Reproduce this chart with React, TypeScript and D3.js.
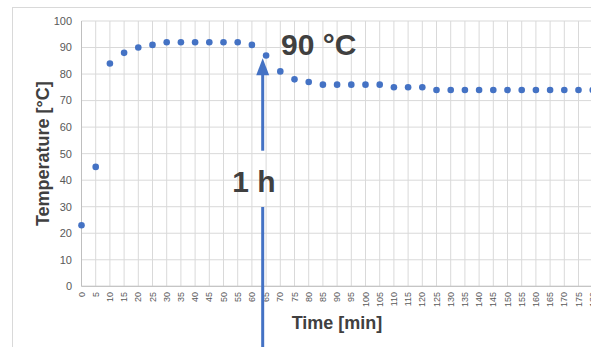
import React from 'react'
import * as d3 from 'd3'

// temperature readings every 5 min
const minutes = d3.range(0, 181, 5)
const temps = [
  23, 45, 84, 88, 90, 91, 92, 92, 92, 92, 92, 92, 91, 87, 81, 78, 77, 76, 76, 76, 76, 76,
  75, 75, 75, 74, 74, 74, 74, 74, 74, 74, 74, 74, 74, 74, 74,
]
const yTicks = [0, 10, 20, 30, 40, 50, 60, 70, 80, 90, 100]

// annotation
const arrowMinute = 63.8
const arrowTip = 86
const tempLabel = '90 °C'
const timeLabel = '1 h'

const W = 591
const H = 347
const font = 'Arial, "Liberation Sans", sans-serif'

export default function App() {
  const x = d3.scaleLinear().domain([0, 180]).range([81.5, 592.7])
  const y = d3.scaleLinear().domain([0, 100]).range([286.3, 21])
  const ax = x(arrowMinute)

  return (
    <svg width={W} height={H} style={{ position: 'absolute', left: 0, top: 0 }} fontFamily={font}>
      <rect x={0} y={0} width={W} height={H} fill="#fff" />
      <rect x={12.5} y={7.5} width={W + 20} height={H + 20} fill="none" stroke="#d9d9d9" />

      {/* grid */}
      {yTicks.map(t => (
        <line key={'h' + t} x1={x(0)} x2={W + 5} y1={y(t)} y2={y(t)} stroke="#d9d9d9" strokeWidth={1} />
      ))}
      {minutes.map(m => (
        <line key={'v' + m} x1={x(m)} x2={x(m)} y1={y(100)} y2={y(0)} stroke="#d9d9d9" strokeWidth={1} />
      ))}
      <line x1={x(0)} x2={W + 5} y1={y(0)} y2={y(0)} stroke="#bfbfbf" />
      <line x1={x(0)} x2={x(0)} y1={y(100)} y2={y(0)} stroke="#bfbfbf" />

      {/* y ticks */}
      {yTicks.map(t => (
        <text key={'yt' + t} x={72} y={y(t)} dy="0.35em" textAnchor="end" fontSize={11} fill="#595959">
          {t}
        </text>
      ))}
      {/* x ticks */}
      {minutes.map(m => (
        <text
          key={'xt' + m}
          transform={`translate(${x(m) + 3},${292}) rotate(-90)`}
          textAnchor="end"
          fontSize={9}
          fill="#595959"
        >
          {m}
        </text>
      ))}

      <text
        transform={`translate(49,${y(50)}) rotate(-90)`}
        textAnchor="middle"
        fontSize={18}
        fontWeight="bold"
        fill="#404040"
      >
        Temperature [°C]
      </text>
      <text x={337} y={329} textAnchor="middle" fontSize={18} fontWeight="bold" fill="#404040">
        Time [min]
      </text>

      {/* points */}
      {temps.map((t, i) => (
        <circle key={'p' + i} cx={x(minutes[i])} cy={y(t)} r={3.3} fill="#4472c4" />
      ))}

      {/* arrow */}
      <line x1={ax} x2={ax} y1={H} y2={207} stroke="#4472c4" strokeWidth={3} />
      <line x1={ax} x2={ax} y1={150.7} y2={y(arrowTip) + 14} stroke="#4472c4" strokeWidth={3} />
      <path
        d={`M${ax},${y(arrowTip)} L${ax - 6.5},${y(arrowTip) + 17} L${ax + 6.5},${y(arrowTip) + 17} Z`}
        fill="#4472c4"
      />
      <text x={254} y={191.7} textAnchor="middle" fontSize={30} fontWeight="bold" fill="#404040">
        {timeLabel}
      </text>
      <text x={281} y={55} fontSize={30} fontWeight="bold" fill="#404040">
        {tempLabel}
      </text>
    </svg>
  )
}
